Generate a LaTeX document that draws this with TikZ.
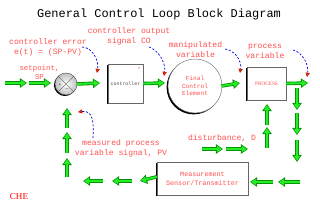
\documentclass[tikz,border=0pt]{standalone}
\usepackage{fontspec}
\setmainfont{Liberation Serif}
\setmonofont{Liberation Mono}
\usetikzlibrary{arrows.meta,shadows}
\definecolor{lblred}{RGB}{255,80,80}
\definecolor{flowgreen}{RGB}{40,235,40}
\definecolor{flowdark}{RGB}{0,150,0}
\definecolor{sigblue}{RGB}{0,0,230}
\tikzset{
  flowout/.style={line width=5pt, draw=flowdark, -{Triangle[length=10pt,width=13pt]}},
  flowin/.style={line width=2.6pt, draw=flowgreen, shorten >=1.6pt, -{Triangle[length=7pt,width=8.5pt]}},
  signal/.style={line width=1pt, draw=sigblue, dash pattern=on 3pt off 2.5pt,
    -{Triangle[length=6pt,width=6pt,fill=green!70!black,color=red]}},
  lbl/.style={font=\ttfamily\fontsize{11.5}{14}\selectfont, text=lblred, align=center, inner sep=0pt},
  block/.style={draw=black!60, fill=white, line width=0.6pt, inner sep=0pt,
    drop shadow={shadow xshift=-2pt, shadow yshift=-2pt, opacity=1, fill=black}},
  blocktext/.style={font=\ttfamily\fontsize{9.6}{12.8}\selectfont, text=lblred, align=center},
}

\begin{document}
\begin{tikzpicture}[x=0.05cm, y=-0.05cm]
\useasboundingbox (0,0) rectangle (320,210);
% title
\node[font=\ttfamily\fontsize{17}{20}\selectfont] (title) at (159,14) {General Control Loop Block Diagram};
% blocks
\node[circle, draw=black!70, line width=0.6pt, minimum size=1.1cm, inner color=white, outer color=black!25,
  drop shadow={shadow xshift=-1.5pt, shadow yshift=-1.5pt, opacity=1, fill=black}] (sum) at (66,84) {};
\draw[black!80] (sum.north east) -- (sum.south west);
\draw[black!80] (sum.north west) -- (sum.south east);
\node[font=\fontsize{7}{7}\selectfont, inner sep=0pt] (plus) at (60,85) {+};
\node[font=\fontsize{7}{7}\selectfont, inner sep=0pt] (minus) at (67,89.5) {$-$};
\node[block, minimum width=1.75cm, minimum height=1.95cm,
  drop shadow={shadow xshift=2pt, shadow yshift=-2pt, opacity=0.8, fill=black}] (ctrl) at (125.5,83.5)
  {\ttfamily\fontsize{7}{8}\selectfont\color{black!70}controller};
\fill[red] (139,68) circle (0.7);
\node[block, circle, minimum size=2.7cm, blocktext, font=\ttfamily\fontsize{8.8}{10.7}\selectfont] (fce) at (195,86)
  {Final\\Control\\Element};
\node[block, minimum width=1.95cm, minimum height=1.65cm, font=\fontsize{7.5}{9}\selectfont, text=lblred] (proc) at (266.5,83.5) {PROCESS};
\node[block, minimum width=4.55cm, minimum height=1.65cm, blocktext] (meas) at (202.5,178.5)
  {Measurement\\Sensor/Transmitter};
% labels
\node[lbl, font=\ttfamily\fontsize{10.5}{12.5}\selectfont] (splabel) at (39.5,72) {setpoint,\\SP};
\node[lbl] (errlabel) at (48,47.5) {controller error\\e(t) = (SP-PV)};
\node[lbl] (colabel) at (129,36.5) {controller output\\signal CO};
\node[lbl] (mvlabel) at (195.5,49.5) {manipulated\\variable};
\node[lbl] (pvlabel) at (265,51.5) {process\\variable};
\node[lbl] (measlabel) at (121,148) {measured process\\variable signal, PV};
\node[lbl] (distlabel) at (222,138) {disturbance, D};
\node[font=\fontsize{13}{15}\selectfont, text=red, inner sep=0pt] (che) at (19,197) {CHE};
% flow points
\coordinate (in1) at (5,83);   \coordinate (in2) at (27,83);
\coordinate (in3) at (29,83);  \coordinate (in4) at (51,83);
\coordinate (e1) at (100,83);  \coordinate (u1) at (165,83);
\coordinate (m1) at (240,83);  \coordinate (y1) at (308,83);
\coordinate (r1) at (297,88);  \coordinate (r2) at (297,110);
\coordinate (r3) at (297,113); \coordinate (r4) at (297,135);
\coordinate (r5) at (297,140); \coordinate (r6) at (297,162);
\coordinate (b1) at (300,182); \coordinate (b2) at (278,182);
\coordinate (b3) at (273,182); \coordinate (b4) at (250,182);
\coordinate (f1) at (140,181); \coordinate (f2) at (132,181);
\coordinate (f3) at (112,181); \coordinate (f4) at (103,181);
\coordinate (f5) at (83,181);
\coordinate (k1) at (67,177);  \coordinate (k2) at (67,158);
\coordinate (k3) at (67,153);  \coordinate (k4) at (67,132);
\coordinate (k5) at (67,128);  \coordinate (k6) at (67,108);
\coordinate (d1) at (202,149); \coordinate (d2) at (223,149);
\coordinate (d3) at (226,149); \coordinate (d4) at (248,149);
\coordinate (p1) at (267,148); \coordinate (p2) at (267,127);
\coordinate (p3) at (267,125); \coordinate (p4) at (267,104);
% green flow arrows
\draw[flowout] (in1) -- (in2);
\draw[flowout] (in3) -- (in4);
\draw[flowout] (sum.east) -- (e1);
\draw[flowout] (ctrl.east) -- (u1);
\draw[flowout] ([xshift=-1pt]fce.east) -- (m1);
\draw[flowout] (proc.east) -- (y1);
\draw[flowout] (r1) -- (r2);
\draw[flowout] (r3) -- (r4);
\draw[flowout] (r5) -- (r6);
\draw[flowout] (b1) -- (b2);
\draw[flowout] (b3) -- (b4);
\draw[flowout] ([yshift=2.5pt]meas.west) -- (f1);
\draw[flowout] (f2) -- (f3);
\draw[flowout] (f4) -- (f5);
\draw[flowout] (k1) -- (k2);
\draw[flowout] (k3) -- (k4);
\draw[flowout] (k5) -- (k6);
\draw[flowout] (d1) -- (d2);
\draw[flowout] (d3) -- (d4);
\draw[flowout] (p1) -- (p2);
\draw[flowout] (p3) -- (p4);
\draw[flowin] (in1) -- (in2);
\draw[flowin] (in3) -- (in4);
\draw[flowin] (sum.east) -- (e1);
\draw[flowin] (ctrl.east) -- (u1);
\draw[flowin] ([xshift=-1pt]fce.east) -- (m1);
\draw[flowin] (proc.east) -- (y1);
\draw[flowin] (r1) -- (r2);
\draw[flowin] (r3) -- (r4);
\draw[flowin] (r5) -- (r6);
\draw[flowin] (b1) -- (b2);
\draw[flowin] (b3) -- (b4);
\draw[flowin] ([yshift=2.5pt]meas.west) -- (f1);
\draw[flowin] (f2) -- (f3);
\draw[flowin] (f4) -- (f5);
\draw[flowin] (k1) -- (k2);
\draw[flowin] (k3) -- (k4);
\draw[flowin] (k5) -- (k6);
\draw[flowin] (d1) -- (d2);
\draw[flowin] (d3) -- (d4);
\draw[flowin] (p1) -- (p2);
\draw[flowin] (p3) -- (p4);
% signal pointers
\coordinate (errfrom) at (82,47);   \coordinate (errtip) at (97,73);
\coordinate (cofrom) at (149,47);   \coordinate (cotip) at (164,76);
\coordinate (mvfrom) at (225,49);   \coordinate (mvtip) at (240,73);
\coordinate (pvfrom) at (293,50);   \coordinate (pvtip) at (307,77);
\coordinate (pmfrom) at (93,138);   \coordinate (pmtip) at (78,112);
\draw[signal] (errfrom) .. controls (92,47) and (99,60) .. (errtip);
\draw[signal] (cofrom) .. controls (158,50) and (166,62) .. (cotip);
\draw[signal] (mvfrom) .. controls (234,50) and (242,60) .. (mvtip);
\draw[signal] (pvfrom) .. controls (302,52) and (309,64) .. (pvtip);
\draw[signal] (pmfrom) .. controls (94,122) and (93,110) .. (pmtip);
\end{tikzpicture}
\end{document}
